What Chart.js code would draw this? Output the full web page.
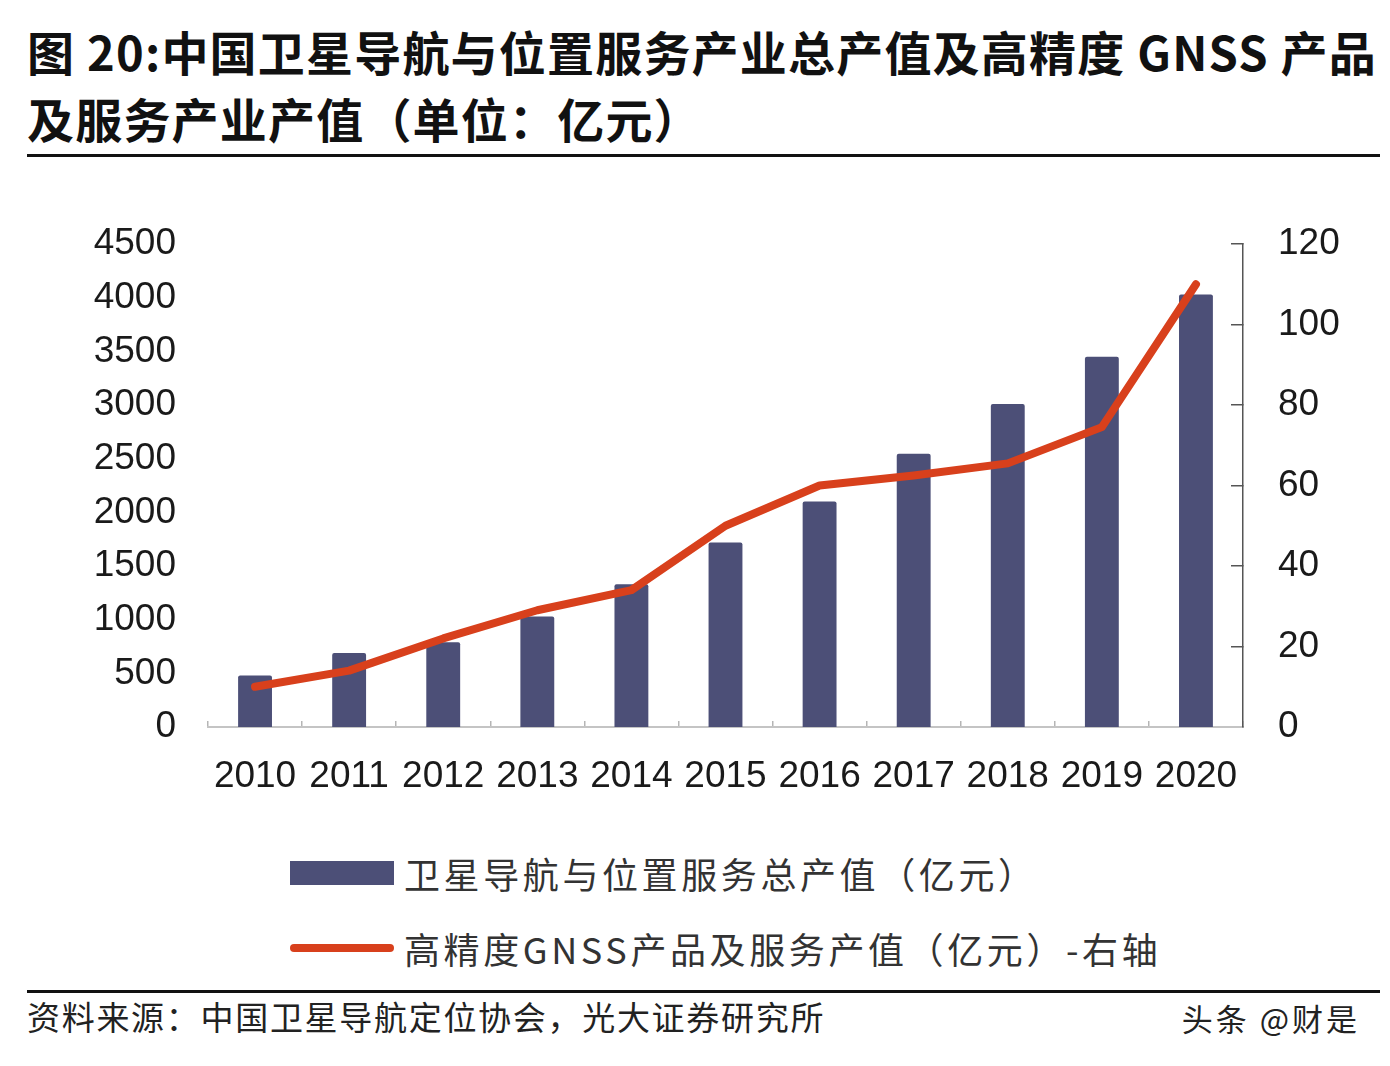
<!DOCTYPE html>
<html>
<head>
<meta charset="utf-8">
<script src="https://cdn.jsdelivr.net/npm/chart.js@4.4.1/dist/chart.umd.min.js"></script>
<style>
  html, body { margin: 0; padding: 0; background: #fff; }
  body { width: 1390px; height: 1066px; position: relative; overflow: hidden; font-family: "Noto Sans CJK SC", sans-serif; }
  .title { position: absolute; left: 27px; top: 17px; font-weight: bold; font-size: 47px; line-height: 67px; color: #111; white-space: nowrap; letter-spacing: 1.2px; }
  .rule { position: absolute; left: 27px; width: 1353px; height: 3px; background: #111; }
  #wrap { position: absolute; left: 0; top: 0; width: 1390px; height: 820px; }
  .leg { position: absolute; left: 290px; height: 40px; display: flex; align-items: center; font-size: 36px; color: #333; white-space: nowrap; letter-spacing: 3.6px; }
  .leg .sw-bar { width: 104px; height: 24px; background: #4c4f77; margin-right: 10px; }
  .leg .sw-line { width: 104px; height: 8px; background: #d8401c; border-radius: 4px; margin-right: 10px; }
  .src { position: absolute; left: 27px; top: 996px; font-size: 33px; line-height: 40px; color: #222; white-space: nowrap; letter-spacing: 1.7px; }
  .wm { position: absolute; right: 30px; top: 998px; font-size: 31px; line-height: 40px; color: #222; white-space: nowrap; letter-spacing: 3px; text-shadow: 0 0 2px #fff, 0 0 2px #fff; }
</style>
</head>
<body>
<div class="title">图 20:中国卫星导航与位置服务产业总产值及高精度 GNSS 产品<br>及服务产业产值（单位：亿元）</div>
<div class="rule" style="top:154px"></div>
<div id="wrap"><canvas id="c" width="1390" height="820"></canvas></div>
<div class="leg" style="top:853px"><div class="sw-bar"></div><span id="l1"></span></div>
<div class="leg" style="top:928px"><div class="sw-line"></div><span id="l2"></span></div>
<div class="rule" style="top:990px"></div>
<div class="src">资料来源：中国卫星导航定位协会，光大证券研究所</div>
<div class="wm">头条 @财是</div>
<script>
const years = ['2010','2011','2012','2013','2014','2015','2016','2017','2018','2019','2020'];
const totalOutput = [480, 690, 790, 1030, 1330, 1720, 2100, 2545, 3010, 3450, 4030];
const gnssOutput = [10, 14, 22, 29, 34, 50, 60, 62.5, 65.5, 74.5, 110];
const leftTicks = [0, 500, 1000, 1500, 2000, 2500, 3000, 3500, 4000, 4500];
const rightTicks = [0, 20, 40, 60, 80, 100, 120];
const seriesNames = ['卫星导航与位置服务总产值（亿元）', '高精度GNSS产品及服务产值（亿元）-右轴'];

document.getElementById('l1').textContent = seriesNames[0];
document.getElementById('l2').textContent = seriesNames[1];

const tickFont = { family: '"Liberation Sans", Arial, sans-serif', size: 37 };
const plain = v => String(v);

new Chart(document.getElementById('c'), {
  data: {
    labels: years,
    datasets: [
      { type: 'line', label: seriesNames[1], data: gnssOutput, yAxisID: 'y2', order: 0,
        borderColor: '#d8401c', borderWidth: 8, pointRadius: 0, tension: 0,
        borderCapStyle: 'round', borderJoinStyle: 'round', fill: false },
      { type: 'bar', label: seriesNames[0], data: totalOutput, yAxisID: 'y', order: 1,
        backgroundColor: '#4c4f77', borderRadius: 2, barPercentage: 0.36, categoryPercentage: 1 }
    ]
  },
  options: {
    responsive: false,
    animation: false,
    devicePixelRatio: 1,
    layout: { padding: { top: 244, left: 0, right: 0, bottom: 0 } },
    plugins: { legend: { display: false }, tooltip: { enabled: false } },
    scales: {
      x: {
        offset: true,
        grid: { offset: true, drawOnChartArea: false, drawTicks: true, tickLength: -6, color: '#b5b5b5', lineWidth: 1.5 },
        border: { display: true, color: '#c4c4c4', width: 2 },
        ticks: { font: tickFont, color: '#1a1a1a', padding: 34, maxRotation: 0, autoSkip: false },
        afterFit: s => { s.height = 93; }
      },
      y: {
        position: 'left', min: 0, max: 4500,
        afterBuildTicks: s => { s.ticks = leftTicks.map(v => ({ value: v })); },
        grid: { display: false, drawTicks: false },
        border: { display: false },
        ticks: { font: tickFont, color: '#1a1a1a', padding: 32, callback: plain },
        afterFit: s => { s.width = 208; }
      },
      y2: {
        position: 'right', min: 0, max: 120,
        afterBuildTicks: s => { s.ticks = rightTicks.map(v => ({ value: v })); },
        grid: { drawOnChartArea: false, drawTicks: true, tickLength: -12, color: '#555', lineWidth: 1.5 },
        border: { display: true, color: '#555', width: 1.5 },
        ticks: { font: tickFont, color: '#1a1a1a', padding: 47, callback: plain },
        afterFit: s => { s.width = 147; }
      }
    }
  }
});
</script>
</body>
</html>
